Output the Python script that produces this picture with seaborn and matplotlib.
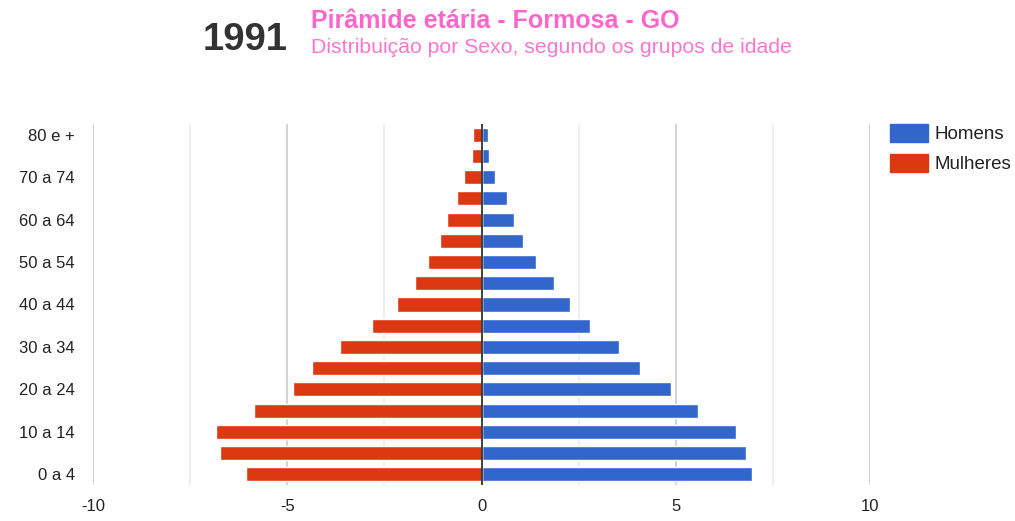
import numpy as np
import pandas as pd
import matplotlib
matplotlib.use('Agg')
import matplotlib.pyplot as plt
from matplotlib.patches import Patch
import seaborn as sns

# age groups, top to bottom
idades = ['80 e +', '75 a 79', '70 a 74', '65 a 69', '60 a 64', '55 a 59',
          '50 a 54', '45 a 49', '40 a 44', '35 a 39', '30 a 34', '25 a 29',
          '20 a 24', '15 a 19', '10 a 14', '5 a 9', '0 a 4']
homens = [0.16, 0.20, 0.35, 0.66, 0.84, 1.07, 1.40, 1.86, 2.27, 2.79, 3.55,
          4.08, 4.87, 5.58, 6.56, 6.82, 6.97]
mulheres = [0.22, 0.25, 0.44, 0.63, 0.89, 1.08, 1.38, 1.72, 2.17, 2.82, 3.65,
            4.36, 4.85, 5.86, 6.84, 6.73, 6.05]
x_ticks = [-10, -5, 0, 5, 10]

cor_h = '#3366cc'
cor_m = '#dc3912'

df = pd.DataFrame({
    'idade': idades * 2,
    'valor': homens + [-v for v in mulheres],
    'sexo': ['Homens'] * len(idades) + ['Mulheres'] * len(idades),
})

sns.set_style('white')
plt.rcParams['font.family'] = ['Liberation Sans', 'DejaVu Sans']

fig = plt.figure(figsize=(10.15, 5.21), dpi=100)
ax = fig.add_axes([93 / 1015, 1 - 485 / 521, (870 - 93) / 1015, (485 - 124) / 521])

sns.barplot(data=df, y='idade', x='valor', hue='sexo', order=idades,
            hue_order=['Homens', 'Mulheres'], palette=[cor_h, cor_m],
            dodge=False, orient='h', width=0.66, legend=False, ax=ax,
            saturation=1, zorder=2)

ax.set_xlim(-10, 10)
ax.set_ylim(16.5, -0.5)

# gridlines
for v in np.arange(-10, 10.1, 2.5):
    if v == 0:
        continue
    major = (v % 5 == 0)
    ax.axvline(v, color='#cccccc' if major else '#ebebeb', lw=1.2, zorder=0)
ax.axvline(0, color='#333333', lw=1.3, zorder=3)

for s in ax.spines.values():
    s.set_visible(False)

ax.set_xticks(x_ticks)
ax.set_xticklabels([str(t) for t in x_ticks])
ax.set_yticks(range(0, len(idades), 2))
ax.set_yticklabels(idades[::2])
ax.tick_params(axis='both', length=0, labelsize=12, colors='#222222')
ax.tick_params(axis='y', pad=13)
ax.tick_params(axis='x', pad=10)
ax.set_xlabel('')
ax.set_ylabel('')

handles = [Patch(color=cor_h), Patch(color=cor_m)]
fig.legend(handles, ['Homens', 'Mulheres'], loc='upper left',
           bbox_to_anchor=(890 / 1015, 1 - 124 / 521), frameon=False,
           fontsize=13.5, handlelength=2.0, handleheight=1.1,
           handletextpad=0.4, labelspacing=0.55, borderpad=0, borderaxespad=0,
           labelcolor='#222222')

fig.text(203 / 1015, 1 - 50 / 521, '1991', fontsize=27.5, fontweight='bold',
         color='#333333', va='baseline', ha='left')
fig.text(311 / 1015, 1 - 28 / 521, 'Pirâmide etária - Formosa - GO',
         fontsize=18, fontweight='bold', color='#ff66cc', va='baseline', ha='left')
fig.text(311 / 1015, 1 - 53 / 521, 'Distribuição por Sexo, segundo os grupos de idade',
         fontsize=15.3, color='#ff77cc', va='baseline', ha='left')

fig.savefig('out.png', dpi=100)
